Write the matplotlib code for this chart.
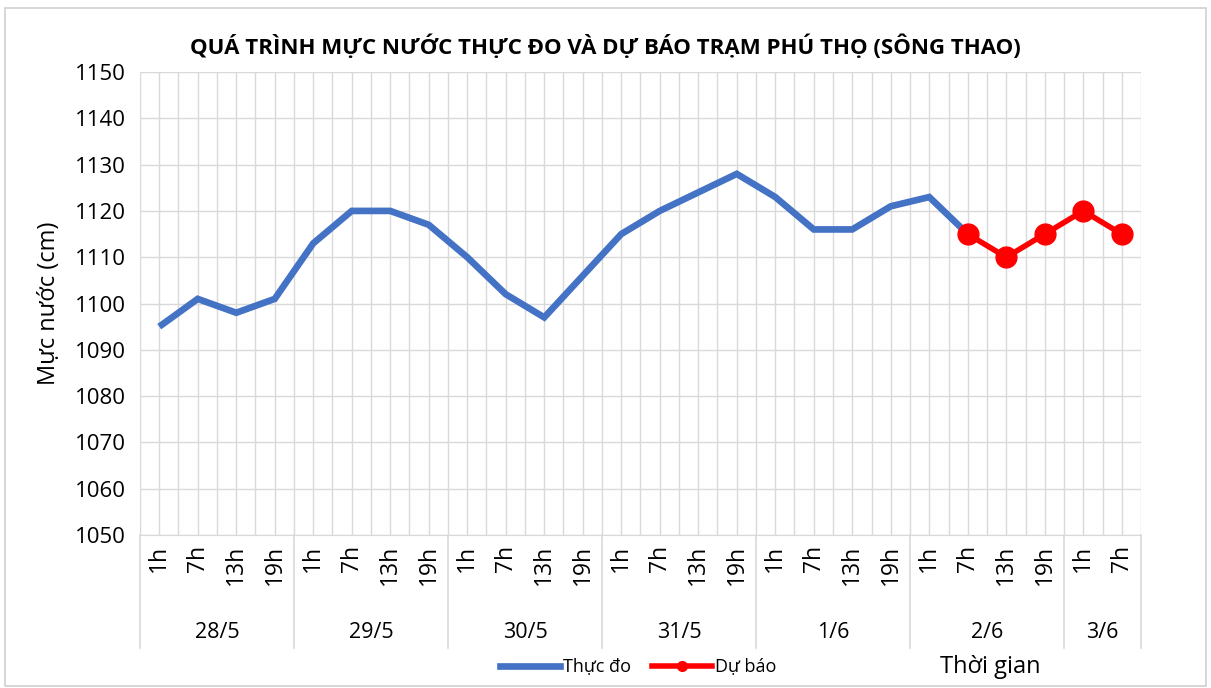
import numpy as np
import matplotlib
matplotlib.use("Agg")
import matplotlib.pyplot as plt
from matplotlib.lines import Line2D
from matplotlib.patches import Rectangle
import matplotlib.transforms as mtrans

plt.rcParams['font.family'] = ['Open Sans', 'DejaVu Sans']

# data
days = ['28/5', '29/5', '30/5', '31/5', '1/6', '2/6', '3/6']
hours = ['1h', '7h', '13h', '19h']
n_per_day = [4, 4, 4, 4, 4, 4, 2]
thuc_do = [1095, 1101, 1098, 1101, 1113, 1120, 1120, 1117, 1110, 1102,
           1097, 1106, 1115, 1120, 1124, 1128, 1123, 1116, 1116, 1121,
           1123, 1115]
du_bao = [1115, 1110, 1115, 1120, 1115]
yticks = np.arange(1050, 1151, 10)

labels = []
for n in n_per_day:
    labels += hours[:n]
n_cat = len(labels)
x_obs = np.arange(len(thuc_do))
x_fc = np.arange(len(thuc_do) - 1, len(thuc_do) - 1 + len(du_bao))

grid_c = '#d9d9d9'
blue = '#4472c4'
red = '#ff0000'

fig = plt.figure(figsize=(12.11, 6.88), dpi=100)
ax = fig.add_axes([0.1156, 0.2224, 0.8266, 0.6729])

# frame around the whole chart
fig.patches.append(Rectangle((0.004, 0.003), 0.992, 0.985, transform=fig.transFigure,
                             fill=False, edgecolor='#d0d0d0', lw=1.2))

ax.plot(x_obs, thuc_do, color=blue, lw=4.8, solid_capstyle='butt',
        solid_joinstyle='miter', zorder=3)
ax.plot(x_fc, du_bao, color=red, lw=4, marker='o', markersize=15, zorder=4)

ax.set_xlim(-0.5, n_cat - 0.5)
ax.set_ylim(1050, 1150)
ax.set_yticks(yticks)
ax.tick_params(axis='y', length=0, labelsize=16, pad=10)
ax.set_xticks(np.arange(-0.5, n_cat, 0.5))
ax.set_xticklabels([])
ax.tick_params(axis='x', length=0)
ax.grid(True, color=grid_c, lw=1)
ax.set_axisbelow(True)
for s in ['top', 'right', 'left']:
    ax.spines[s].set_visible(False)
ax.spines['bottom'].set_color(grid_c)

ax.set_ylabel('Mực nước (cm)', fontsize=17, labelpad=10)
fig.text(0.5, 0.932, 'QUÁ TRÌNH MỰC NƯỚC THỰC ĐO VÀ DỰ BÁO TRẠM PHÚ THỌ (SÔNG THAO)',
         ha='center', va='center', fontsize=16, fontweight='bold')

# two-level category axis
trans = mtrans.blended_transform_factory(ax.transData, ax.transAxes)
for i, lab in enumerate(labels):
    ax.text(i, -0.022, lab, transform=trans, rotation=90, ha='center', va='top',
            fontsize=16.5)
start = 0
for d, n in zip(days, n_per_day):
    ax.plot([start - 0.5, start - 0.5], [0, -0.245], transform=trans, color=grid_c,
            lw=1.2, clip_on=False)
    ax.text(start + (n - 1) / 2, -0.21, d, transform=trans, ha='center', va='center',
            fontsize=15.5)
    start += n
ax.plot([start - 0.5, start - 0.5], [0, -0.245], transform=trans, color=grid_c,
        lw=1.2, clip_on=False)

# legend and axis title
handles = [Line2D([], [], color=blue, lw=4.8),
           Line2D([], [], color=red, lw=4, marker='o', markersize=7)]
fig.legend(handles, ['Thực đo', 'Dự báo'], loc='center', bbox_to_anchor=(0.527, 0.03),
           ncol=2, frameon=False, fontsize=13, handlelength=3.3, handletextpad=0.15,
           columnspacing=1.2)
fig.text(0.818, 0.03, 'Thời gian', ha='center', va='center', fontsize=17)

fig.savefig('out.png', dpi=100)
